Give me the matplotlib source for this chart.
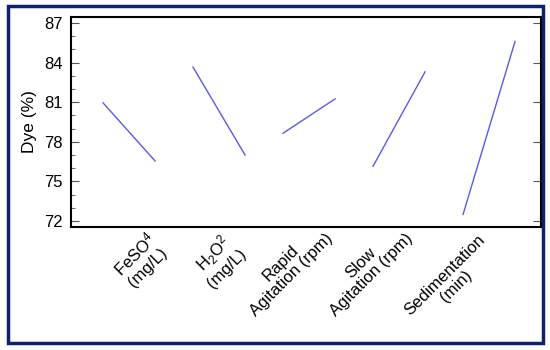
import matplotlib
matplotlib.use("Agg")
import matplotlib.pyplot as plt
from matplotlib.patches import Rectangle
from matplotlib.ticker import MultipleLocator
from matplotlib.transforms import blended_transform_factory

plt.rcParams['font.family'] = ['Liberation Sans', 'DejaVu Sans']
plt.rcParams['mathtext.fontset'] = 'custom'
plt.rcParams['mathtext.rm'] = 'Liberation Sans'

factors = ["FeSO$\\mathregular{^4}$\n(mg/L)", "H$\\mathregular{_2}$O$\\mathregular{^2}$\n(mg/L)",
           "Rapid\nAgitation (rpm)", "Slow\nAgitation (rpm)", "Sedimentation\n(min)"]
low_values = [80.95, 83.65, 78.65, 76.15, 72.5]
high_values = [76.55, 77.0, 81.25, 83.3, 85.6]
yticks = [72, 75, 78, 81, 84, 87]

# label anchor positions (pixels in the 550x350 figure)
label_px_x = [146, 222, 314, 394, 477]
label_px_y = [229, 229, 219, 219, 232]

fig = plt.figure(figsize=(5.5, 3.5), dpi=100)
ax = fig.add_axes([71/550, 1-227/350, 470/550, 210/350])

seg_start = 0.356
seg_width = 0.578
for i, (lo, hi) in enumerate(zip(low_values, high_values)):
    x0 = seg_start + i
    ax.plot([x0, x0 + seg_width], [lo, hi], color='#5a5ae6', lw=1.0)

ax.set_xlim(0, 470/90)
ax.set_ylim(71.55, 87.45)
ax.set_yticks(yticks)
ax.yaxis.set_minor_locator(MultipleLocator(1))
ax.tick_params(axis='y', which='major', direction='in', length=6, width=0.8, color='#555555',
               labelsize=12, right=True, left=True, labelright=False, pad=6)
ax.tick_params(axis='y', which='minor', direction='in', length=3, width=0.8, color='#777777',
               right=False, left=True)
ax.set_xticks([])

trans = blended_transform_factory(ax.transData, ax.transAxes)
for lab, px, py in zip(factors, label_px_x, label_px_y):
    ax.text((px - 71) / 90, (227 - py) / 210, lab, transform=trans, rotation=45,
            ha='right', va='top', rotation_mode='anchor', multialignment='center',
            fontsize=12, linespacing=1.1, clip_on=False)

for s in ax.spines.values():
    s.set_linewidth(1.5)
    s.set_color('black')
ax.set_ylabel('Dye (%)', fontsize=12.5, labelpad=5)

fig.patches.append(Rectangle((7.5/550, 1-343/350), 535.5/550, 337.5/350, transform=fig.transFigure,
                             fill=False, edgecolor='#0f2070', lw=2.5))

fig.savefig('out.png', dpi=100)
